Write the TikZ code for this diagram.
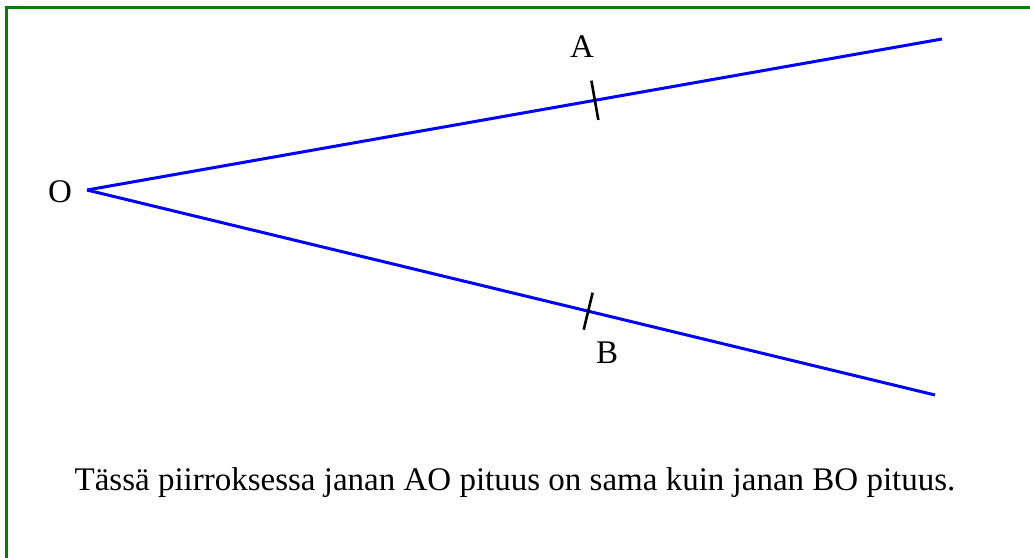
\documentclass[tikz,border=0pt]{standalone}
\usepackage{fontspec}
\setmainfont{Liberation Serif}
\usetikzlibrary{positioning,calc}

\begin{document}
\begin{tikzpicture}[
x=1pt, y=-1pt,
ray/.style={draw=blue, line width=3pt},
tick/.style={draw=black, line width=2.6pt},
lbl/.style={font=\fontsize{33}{38}\selectfont, inner sep=0pt}
]
\useasboundingbox (0,0) rectangle (1030,557);
\draw[green!50!black, line width=3pt] (6.5,7) rectangle (1060,600);
\coordinate (o) at (87,190);
\coordinate (p) at (942,39);
\coordinate (q) at (935,395);
\coordinate (a) at ($(o)!0.594!(p)$);
\coordinate (b) at ($(o)!0.591!(q)$);
\draw[ray] (o) -- (p);
\draw[ray] (o) -- (q);
\draw[tick] ($(a)!20pt!90:(p)$) -- ($(a)!20pt!-90:(p)$);
\draw[tick] ($(b)!19pt!90:(q)$) -- ($(b)!19pt!-90:(q)$);
\node[lbl] (labo) at (60,192) {O};
\node[lbl] (laba) at (582,47) {A};
\node[lbl] (labb) at (607,353) {B};
\node[lbl] (caption) at (515,483) {Tässä piirroksessa janan AO pituus on sama kuin janan BO pituus.};
\end{tikzpicture}
\end{document}
